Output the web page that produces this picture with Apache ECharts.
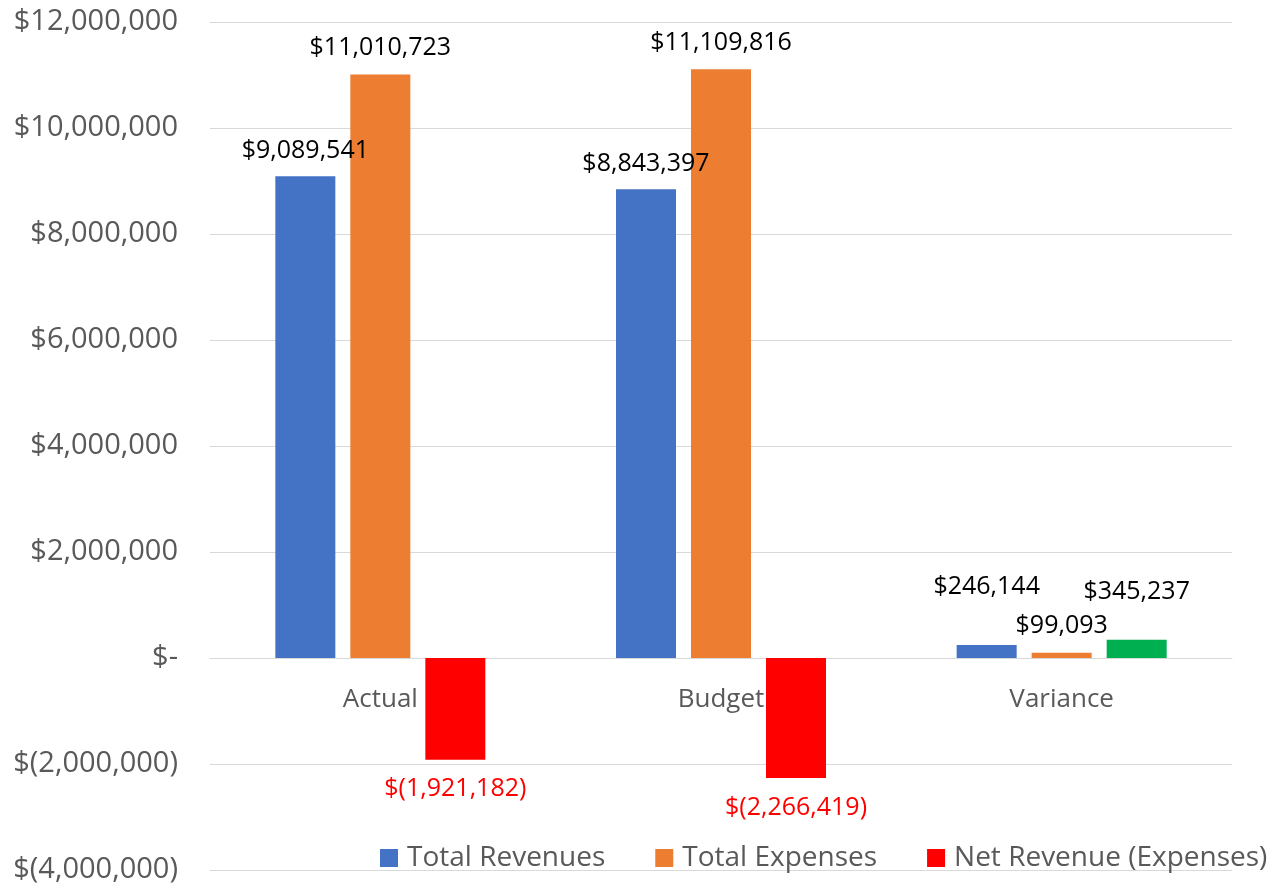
<!DOCTYPE html>
<html>
<head>
<meta charset="utf-8">
<title>Actual vs Budget</title>
<script src="https://cdn.jsdelivr.net/npm/echarts@6/dist/echarts.min.js"></script>
<style>
  html, body { margin: 0; padding: 0; background: #fff; }
  #chart { width: 1270px; height: 885px; }
</style>
</head>
<body>
<div id="chart"></div>
<script>
// data
const categories = ["Actual", "Budget", "Variance"];
const totalRevenues = [9089541, 8843397, 246144];
const totalExpenses = [11010723, 11109816, 99093];
const netRevenue = [-1921182, -2266419, 345237];
const yTicks = [-4000000, -2000000, 0, 2000000, 4000000, 6000000, 8000000, 10000000, 12000000];

const colors = {
  revenue: "#4472C4",
  expense: "#ED7D31",
  netNeg: "#FF0000",
  netPos: "#00B050"
};

function money(v) {
  if (v === 0) return "$-";
  let s = Math.abs(v).toLocaleString("en-US");
  return v < 0 ? "$(" + s + ")" : "$" + s;
}

const labelFont = {
  fontFamily: "Open Sans",
  fontSize: 25,
  color: "#000"
};

// the variance labels sit higher above their short bars
function withLift(values, lifts) {
  return values.map(function (v, i) {
    if (!lifts[i]) return v;
    return { value: v, label: { distance: lifts[i] } };
  });
}

let chart = echarts.init(document.getElementById("chart"));

let option = {
  animation: false,
  backgroundColor: "#fff",
  grid: {
    left: 210,
    right: 38,
    top: 22,
    bottom: 15,
    containLabel: false,
    outerBoundsMode: "none"
  },
  legend: {
    left: 380,
    top: 844,
    width: 900,
    padding: 0,
    itemWidth: 18,
    itemHeight: 18,
    itemGap: 50,
    icon: "rect",
    textStyle: {
      fontFamily: "Open Sans",
      fontSize: 28,
      color: "#595959",
      padding: [0, 0, 0, 4]
    },
    data: ["Total Revenues", "Total Expenses", "Net Revenue (Expenses)"]
  },
  xAxis: {
    type: "category",
    data: categories,
    position: "bottom",
    // the category axis sits on the zero line, 2M steps of 106px above the bottom
    offset: -212,
    axisTick: { show: false },
    axisLine: { show: true, onZero: false, lineStyle: { color: "#d9d9d9", width: 1 } },
    axisLabel: {
      margin: 29,
      fontFamily: "Open Sans",
      fontSize: 26,
      color: "#595959"
    },
    z: 1
  },
  yAxis: {
    type: "value",
    min: yTicks[0],
    max: yTicks[yTicks.length - 1],
    interval: 2000000,
    axisLine: { show: false },
    axisTick: { show: false },
    splitLine: { lineStyle: { color: "#d9d9d9", width: 1 } },
    axisLabel: {
      margin: 32,
      fontFamily: "Open Sans",
      fontSize: 29,
      color: "#595959",
      formatter: money
    }
  },
  series: [
    {
      name: "Total Revenues",
      type: "bar",
      barWidth: 60,
      barGap: "25%",
      itemStyle: { color: colors.revenue },
      label: Object.assign({
        show: true,
        position: "top",
        distance: 13,
        formatter: function (p) { return money(p.value); }
      }, labelFont),
      data: withLift(totalRevenues, [0, 0, 46])
    },
    {
      name: "Total Expenses",
      type: "bar",
      barWidth: 60,
      barGap: "25%",
      itemStyle: { color: colors.expense },
      label: Object.assign({
        show: true,
        position: "top",
        distance: 14,
        formatter: function (p) { return money(p.value); }
      }, labelFont),
      data: totalExpenses
    },
    {
      name: "Net Revenue (Expenses)",
      type: "bar",
      barWidth: 60,
      barGap: "25%",
      itemStyle: { color: colors.netNeg },
      label: Object.assign({}, labelFont, {
        show: true,
        position: "bottom",
        distance: 17,
        formatter: function (p) { return money(p.value); }
      }),
      data: netRevenue.map(function (v) {
        if (v >= 0) {
          return {
            value: v,
            itemStyle: { color: colors.netPos },
            label: { position: "top", distance: 35, color: "#000" }
          };
        }
        return { value: v, label: { color: colors.netNeg } };
      })
    }
  ]
};

chart.setOption(option);

window.addEventListener("resize", function () {
  chart.resize();
});
</script>
</body>
</html>
